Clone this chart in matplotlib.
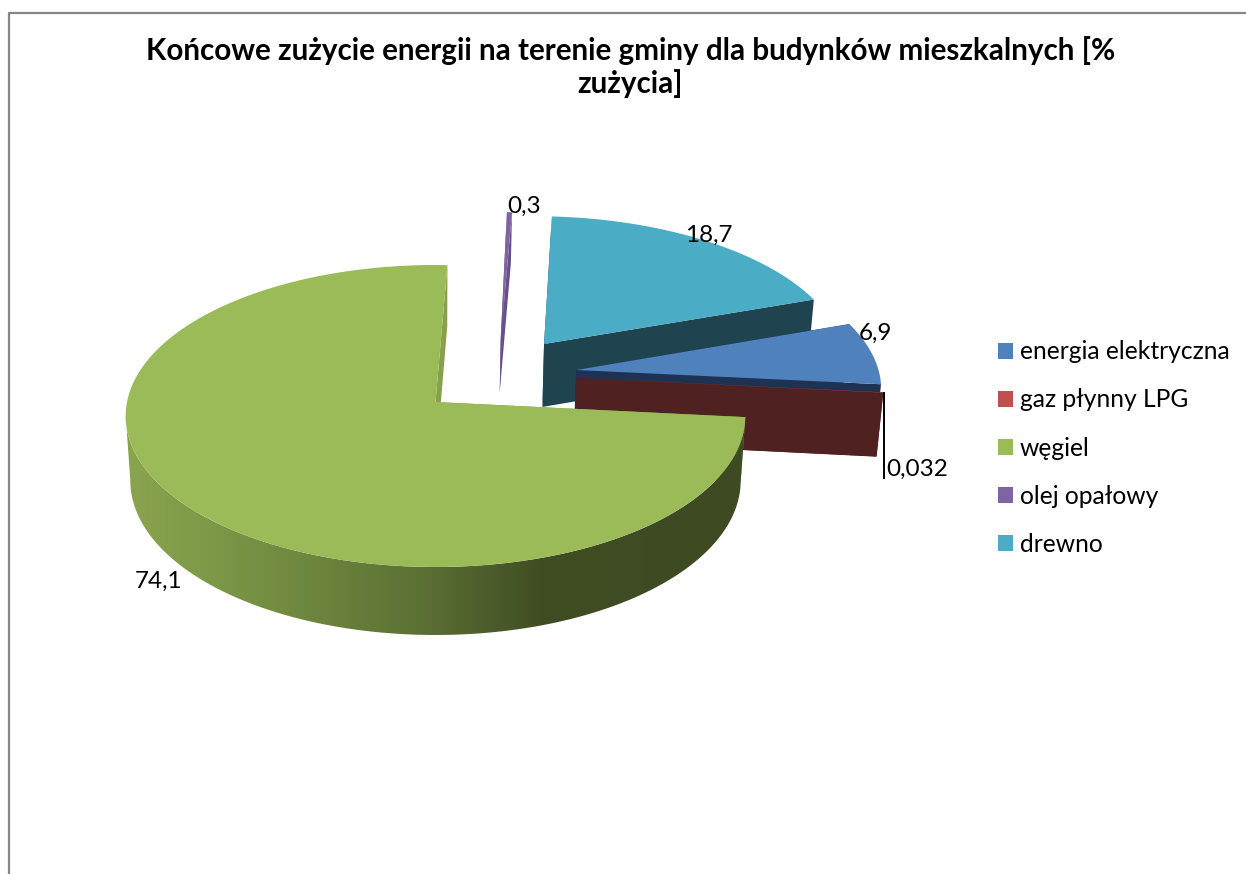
import numpy as np
import matplotlib
matplotlib.use("Agg")
import matplotlib.pyplot as plt
from matplotlib.colors import to_rgb
from matplotlib.patches import Patch, Polygon

plt.rcParams['font.family'] = ['Lato', 'DejaVu Sans']

# dane
categories = ["energia elektryczna", "gaz płynny LPG", "węgiel", "olej opałowy", "drewno"]
values = [6.9, 0.032, 74.1, 0.3, 18.7]
value_labels = ["6,9", "0,032", "74,1", "0,3", "18,7"]
title = "Końcowe zużycie energii na terenie gminy dla budynków mieszkalnych [%\nzużycia]"

# wyglad
top_colors = ["#4F81BD", "#C0504D", "#9BBB59", "#8064A2", "#4BACC6"]
face_colors = ["#1E3253", "#4F2120", "#87A04A", "#65508A", "#1F4450"]
explode_u = [0.465, 0.465, 0.0, 0.22, 0.365]
explode_v = [0.218, 0.163, 0.0, 0.438, 0.402]
depth_scale = [1, 1, 1, 0.85, 1]
label_pos = [(875, 333), (917, 469), (159, 581), (524, 206), (709, 235)]
draw_order = [4, 3, 0, 1, 2]

FIRST_ANGLE = 70.8
CX, CY = 435.5, 402
R, RK, PERSP = 308.5, 149.7, 0.0927
VANISH_X, BOTTOM_SCALE = 435, 0.985

wall_x = [125, 200, 300, 430, 540, 745]
wall_c = ["#8AA44E", "#7F9A48", "#6F883F", "#5A6E33", "#404D23", "#3E4A22"]


def project(u, v):
    s = 1 / (1 + PERSP * v)
    return CX + R * u * s, CY - RK * v * s


def extrude(x, y, scale=1):
    depth = (63 + (y - 345) * 0.0225) * scale
    return VANISH_X + (x - VANISH_X) * BOTTOM_SCALE, y + depth


def rim(i, a, b, n=120):
    t = np.radians(np.linspace(a, b, n))
    return project(explode_u[i] + np.sin(t), explode_v[i] + np.cos(t))


fig = plt.figure(figsize=(12.46, 8.74), dpi=100)
ax = fig.add_axes([0, 0, 1, 1])
ax.set_xlim(0, 1246)
ax.set_ylim(874, 0)
ax.axis('off')

# ramka wykresu (tylko gora i lewa strona widoczne)
ax.plot([9, 9, 1246], [874, 13, 13], color="#868686", lw=1.6, solid_capstyle='butt')

# katy wycinkow
total = sum(values)
edges = FIRST_ANGLE + np.concatenate([[0], np.cumsum(values)]) / total * 360

for i in draw_order:
    a, b = edges[i], edges[i + 1]
    ax_, ay_ = project(explode_u[i], explode_v[i])
    bx_, by_ = extrude(ax_, ay_, depth_scale[i])

    # sciany promieniowe
    for ang in (a, b):
        x, y = rim(i, ang, ang, 1)
        xb, yb = extrude(x[0], y[0], depth_scale[i])
        ax.fill([ax_, x[0], xb, bx_], [ay_, y[0], yb, by_],
                color=face_colors[i], lw=0, zorder=2)

    # sciana zewnetrzna wegla z gradientem, do skrajnego lewego punktu
    if i == 2:
        x, y = rim(i, a, 340, 300)
        left = np.argmin(x) + 1
        x, y = x[:left], y[:left]
        xb, yb = extrude(x, y)
        pts = np.column_stack([np.r_[x, xb[::-1]], np.r_[y, yb[::-1]]])
        clip = Polygon(pts, transform=ax.transData, fc='none', lw=0)
        ax.add_patch(clip)
        xs = np.arange(120, 750)
        rgb = np.array([to_rgb(c) for c in wall_c])
        grad = np.stack([np.interp(xs, wall_x, rgb[:, k]) for k in range(3)], axis=-1)[None, :, :]
        im = ax.imshow(grad, extent=(120, 750, 640, 380), aspect='auto', zorder=2.5)
        im.set_clip_path(clip)
        ax.set_xlim(0, 1246)
        ax.set_ylim(874, 0)

    # gorna powierzchnia
    x, y = rim(i, a, b)
    ax.fill(np.r_[ax_, x], np.r_[ay_, y], color=top_colors[i], lw=0, zorder=3)

# linia odniesienia dla gazu
gx, gy = rim(1, edges[2], edges[2], 1)
ax.plot([884, 884], [gy[0], 478], color="black", lw=1.4, zorder=4)

for (x, y), lab in zip(label_pos, value_labels):
    ax.text(x, y, lab, ha='center', va='center', fontsize=17.5, color="black", zorder=5)

ax.text(630.5, 67, title, ha='center', va='center', fontsize=21.3, fontweight='bold',
        color="black", linespacing=1.2)

handles = [Patch(facecolor=c, edgecolor='none', label=n) for c, n in zip(top_colors, categories)]
ax.legend(handles=handles, loc='center left', bbox_to_anchor=(998 / 1246, 1 - 448 / 874),
          frameon=False, fontsize=17.7, handlelength=0.61, handleheight=0.61,
          handletextpad=0.28, labelspacing=1.02, borderpad=0, borderaxespad=0)

fig.savefig("out.png", dpi=100)
